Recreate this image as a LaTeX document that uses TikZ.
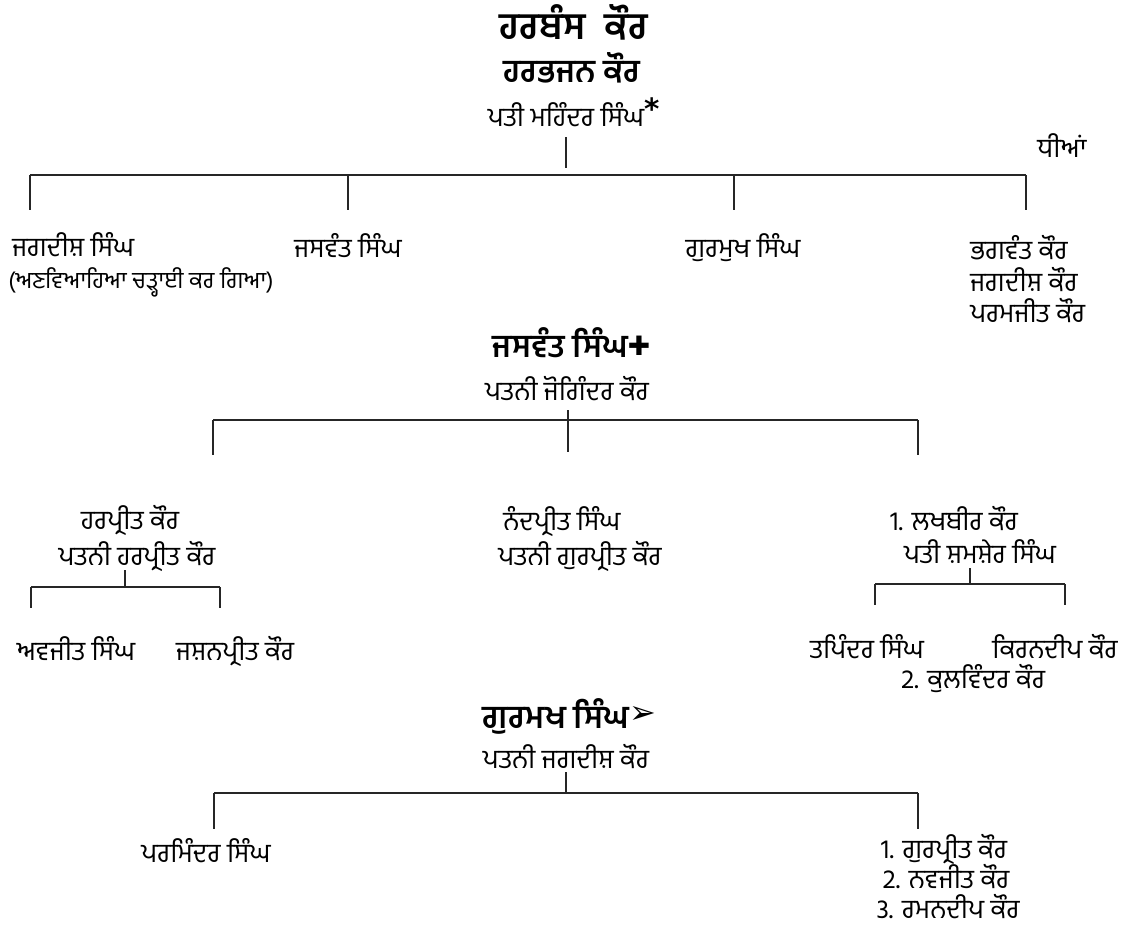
\documentclass[tikz,border=0pt]{standalone}
\usepackage{fontspec}
\newfontfamily\gurfont[Script=Gurmukhi]{Hind Jalandhar}
\newfontfamily\symfont{DejaVu Sans}
\usetikzlibrary{positioning,calc}

\begin{document}
\begin{tikzpicture}[
    x=0.75pt, y=-0.75pt,
    line/.style={draw=black!85, line width=1.5pt},
    person/.style={font=\gurfont\fontsize{20}{22}\selectfont, inner sep=0pt, anchor=base},
    note/.style={font=\gurfont\fontsize{17.5}{19}\selectfont, inner sep=0pt, anchor=base west},
    bigtitle/.style={font=\gurfont\bfseries\fontsize{28}{32}\selectfont, inner sep=0pt, anchor=base},
    header/.style={font=\gurfont\bfseries\fontsize{24}{28}\selectfont, inner sep=0pt, anchor=base}
]
\useasboundingbox (0,0) rectangle (1126,933);

% Grandparents
\node[bigtitle] (harbans) at (574,39) {ਹਰਬੰਸ\ \ ਕੌਰ};
\node[header] (harbhajan) at (572,82) {ਹਰਭਜਨ ਕੌਰ};
\node[person] (mahinder) at (566,126) {ਪਤੀ ਮਹਿੰਦਰ ਸਿੰਘ\rlap{\raisebox{0.45ex}{\symfont\bfseries\fontsize{22}{22}\selectfont *}}};
\node[person] (dhian) at (1062,157) {ਧੀਆਂ};

% Children
\node[person, anchor=base west] (jagdish) at (12,256) {ਜਗਦੀਸ਼ ਸਿੰਘ};
\node[note] (unwed) at (8,288) {(ਅਣਵਿਆਹਿਆ ਚੜ੍ਹਾਈ ਕਰ ਗਿਆ)};
\node[person] (jaswant) at (348,257) {ਜਸਵੰਤ ਸਿੰਘ};
\node[person] (gurmukh) at (743,257) {ਗੁਰਮੁਖ ਸਿੰਘ};
\node[person, anchor=base west] (bhagwant) at (970,259) {ਭਗਵੰਤ ਕੌਰ};
\node[person, anchor=base west] (jagdishk) at (970,291) {ਜਗਦੀਸ਼ ਕੌਰ};
\node[person, anchor=base west] (paramjit) at (970,322) {ਪਰਮਜੀਤ ਕੌਰ};

\coordinate (bar1l) at (30,175);
\coordinate (bar1r) at (1026,175);
\draw[line] ($(mahinder.base)+(0,11)$) -- ++(0,31);
\draw[line] (bar1l) -- (bar1r);
\draw[line] (bar1l) -- ++(0,35);
\draw[line] (jaswant.base |- bar1l) -- ++(0,35);
\draw[line] (gurmukh.base |- bar1l) ++(-9,0) -- ++(0,35);
\draw[line] (bar1r) -- ++(0,35);

% Jaswant Singh
\node[header] (jaswant2) at (560,357) {ਜਸਵੰਤ ਸਿੰਘ\rlap{\raisebox{0.1ex}{\symfont\fontsize{20}{20}\selectfont ✚}}};
\node[person] (joginder) at (567,400) {ਪਤਨੀ ਜੋਗਿੰਦਰ ਕੌਰ};
\node[person] (harpreet) at (130,529) {ਹਰਪ੍ਰੀਤ ਕੌਰ};
\node[person] (harpreetw) at (137,565) {ਪਤਨੀ ਹਰਪ੍ਰੀਤ ਕੌਰ};
\node[person] (nandpreet) at (562,530) {ਨੰਦਪ੍ਰੀਤ ਸਿੰਘ};
\node[person] (gurpreetw) at (580,565) {ਪਤਨੀ ਗੁਰਪ੍ਰੀਤ ਕੌਰ};
\node[person] (lakhbir) at (954,530) {1. ਲਖਬੀਰ ਕੌਰ};
\node[person] (shamsher) at (980,563) {ਪਤੀ ਸ਼ਮਸ਼ੇਰ ਸਿੰਘ};
\node[person] (avjit) at (76,660) {ਅਵਜੀਤ ਸਿੰਘ};
\node[person] (jashan) at (235,660) {ਜਸ਼ਨਪ੍ਰੀਤ ਕੌਰ};
\node[person] (tapinder) at (867,658) {ਤਪਿੰਦਰ ਸਿੰਘ};
\node[person] (kirandeep) at (1055,658) {ਕਿਰਨਦੀਪ ਕੌਰ};
\node[person] (kulwinder) at (973,688) {2. ਕੁਲਵਿੰਦਰ ਕੌਰ};

\coordinate (bar2l) at (213,420);
\coordinate (bar2r) at (918,420);
\draw[line] ($(joginder.base)+(1,10)$) -- ++(0,42);
\draw[line] (bar2l) -- (bar2r);
\draw[line] (bar2l) -- ++(0,35);
\draw[line] (bar2r) -- ++(0,35);

\coordinate (bar3l) at (31,587);
\coordinate (bar3r) at (220,587);
\draw[line] ($(harpreetw.base)+(-12,5)$) -- ++(0,17);
\draw[line] (bar3l) -- (bar3r);
\draw[line] (bar3l) -- ++(0,21);
\draw[line] (bar3r) -- ++(0,21);

\coordinate (bar4l) at (875,584);
\coordinate (bar4r) at (1065,584);
\draw[line] ($(shamsher.base)+(-10,5)$) -- ++(0,16);
\draw[line] (bar4l) -- (bar4r);
\draw[line] (bar4l) -- ++(0,21);
\draw[line] (bar4r) -- ++(0,21);

% Gurmukh Singh
\node[header] (gurmukh2) at (556,728) {ਗੁਰਮਖ ਸਿੰਘ\rlap{\raisebox{0.25ex}{\symfont\fontsize{24}{24}\selectfont ➢}}};
\node[person] (jagdishw) at (566,768) {ਪਤਨੀ ਜਗਦੀਸ਼ ਕੌਰ};
\node[person] (parminder) at (206,862) {ਪਰਮਿੰਦਰ ਸਿੰਘ};
\node[person] (gurpreet) at (944,858) {1. ਗੁਰਪ੍ਰੀਤ ਕੌਰ};
\node[person] (navjit) at (946,888) {2. ਨਵਜੀਤ ਕੌਰ};
\node[person] (ramandeep) at (948,918) {3. ਰਮਨਦੀਪ ਕੌਰ};

\coordinate (bar5l) at (214,793);
\coordinate (bar5r) at (918,793);
\draw[line] ($(jagdishw.base)+(0,4)$) -- ++(0,21);
\draw[line] (bar5l) -- (bar5r);
\draw[line] (bar5l) -- ++(0,36);
\draw[line] (bar5r) -- ++(0,36);

\end{tikzpicture}
\end{document}
